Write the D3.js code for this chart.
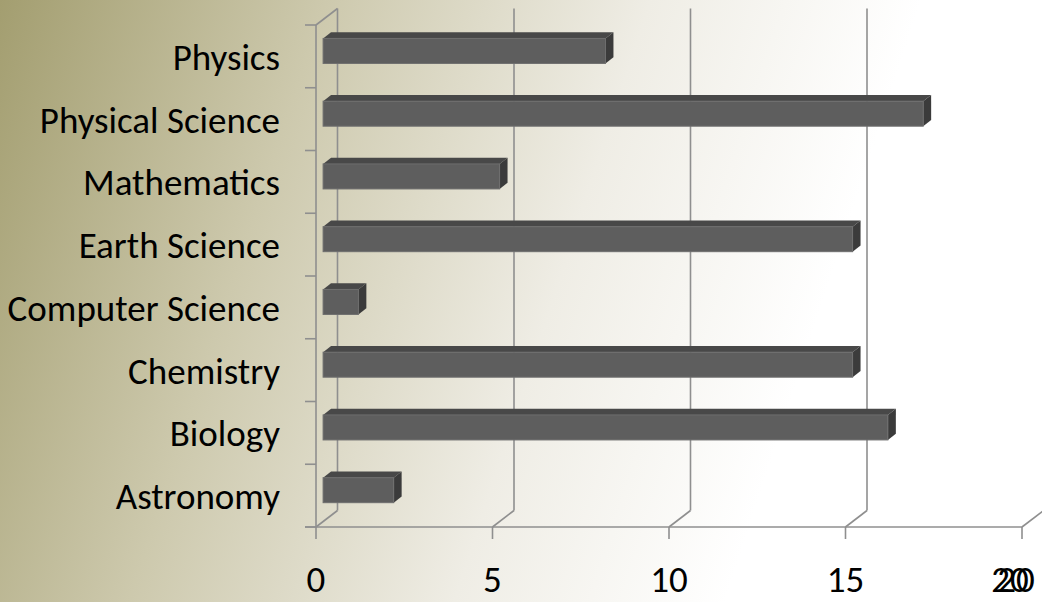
<!DOCTYPE html>
<meta charset="utf-8">
<style>
body { margin: 0; background: #fff; }
svg { display: block; }
.cat-label, .val-label {
  font-family: Calibri, Carlito, Lato, sans-serif;
  fill: #000;
}
.cat-label { font-size: 37px; }
.val-label { font-size: 37px; }
.grid { stroke: #8f8f8f; stroke-width: 1.6; fill: none; }
</style>
<body>
<script src="https://d3js.org/d3.v7.min.js"></script>
<script>

// chart data
var categories = ["Physics", "Physical Science", "Mathematics", "Earth Science",
                  "Computer Science", "Chemistry", "Biology", "Astronomy"];
var values = [8, 17, 5, 15, 1, 15, 16, 2];
var xTicks = [0, 5, 10, 15, 20];

var W = 1042, H = 602;

// front plane of the plot
var plotLeft = 316, plotRight = 1022, plotTop = 25, plotBottom = 527;
// depth offset of the back wall
var depthX = 21.5, depthY = -16.5;
// bar depth (fraction of the full depth)
var barD0 = 0.33, barD1 = 0.70;

var x = d3.scaleLinear().domain([0, 20]).range([plotLeft, plotRight]);
var yStep = d3.scaleBand().domain(categories).range([plotTop, plotBottom]);
var barH = 25;

var svg = d3.select("body").append("svg")
    .attr("width", W)
    .attr("height", H);

// background gradient
var defs = svg.append("defs");
var grad = defs.append("linearGradient")
    .attr("id", "bg")
    .attr("gradientUnits", "userSpaceOnUse")
    .attr("x1", 0).attr("y1", 0)
    .attr("x2", 980).attr("y2", 320);
grad.append("stop").attr("offset", 0).attr("stop-color", "#a39e70");
grad.append("stop").attr("offset", 0.3).attr("stop-color", "#cdc9ad");
grad.append("stop").attr("offset", 0.6).attr("stop-color", "#efede5");
grad.append("stop").attr("offset", 0.85).attr("stop-color", "#ffffff");

svg.append("rect").attr("width", W).attr("height", H).attr("fill", "url(#bg)");

// back wall gridlines
var g = svg.append("g");
g.selectAll(".back").data(xTicks).enter().append("line")
    .attr("class", "grid")
    .attr("x1", function(d) { return x(d) + depthX; })
    .attr("x2", function(d) { return x(d) + depthX; })
    .attr("y1", plotTop + depthY)
    .attr("y2", plotBottom + depthY);

// floor diagonals
g.selectAll(".floor").data(xTicks).enter().append("line")
    .attr("class", "grid")
    .attr("x1", function(d) { return x(d); })
    .attr("y1", plotBottom)
    .attr("x2", function(d) { return x(d) + depthX; })
    .attr("y2", plotBottom + depthY);

// top-left diagonal of the side wall
g.append("line").attr("class", "grid")
    .attr("x1", plotLeft).attr("y1", plotTop)
    .attr("x2", plotLeft + depthX).attr("y2", plotTop + depthY);

// front category axis
g.append("line").attr("class", "grid")
    .attr("x1", plotLeft).attr("y1", plotTop)
    .attr("x2", plotLeft).attr("y2", plotBottom);
var bounds = categories.map(function(c) { return yStep(c); }).concat([plotBottom]);
g.selectAll(".ctick").data(bounds).enter().append("line")
    .attr("class", "grid")
    .attr("x1", plotLeft - 11).attr("x2", plotLeft)
    .attr("y1", function(d) { return d; })
    .attr("y2", function(d) { return d; });

// front value axis
g.append("line").attr("class", "grid")
    .attr("x1", plotLeft - 11).attr("y1", plotBottom)
    .attr("x2", plotRight).attr("y2", plotBottom);
g.selectAll(".xtick").data(xTicks).enter().append("line")
    .attr("class", "grid")
    .attr("x1", function(d) { return x(d); })
    .attr("x2", function(d) { return x(d); })
    .attr("y1", plotBottom)
    .attr("y2", plotBottom + 12);

// 3D bars
var bars = svg.append("g").selectAll(".bar")
    .data(categories.map(function(c, i) { return {cat: c, v: values[i]}; }))
  .enter().append("g");

function pt(px, py) { return px + "," + py; }

bars.each(function(d) {
  var b = d3.select(this);
  var ox = barD0 * depthX, oy = barD0 * depthY;
  var dx = (barD1 - barD0) * depthX, dy = (barD1 - barD0) * depthY;
  var x0 = x(0) + ox, x1 = x(d.v) + ox;
  var yc = yStep(d.cat) + yStep.bandwidth() / 2 + oy;
  var y0 = yc - barH / 2, y1 = yc + barH / 2;
  // top face
  b.append("polygon")
      .attr("points", [pt(x0, y0), pt(x0 + dx, y0 + dy), pt(x1 + dx, y0 + dy), pt(x1, y0)].join(" "))
      .attr("fill", "#484848");
  // right side face
  b.append("polygon")
      .attr("points", [pt(x1, y0), pt(x1 + dx, y0 + dy), pt(x1 + dx, y1 + dy), pt(x1, y1)].join(" "))
      .attr("fill", "#3b3b3b");
  // front face
  b.append("rect")
      .attr("x", x0).attr("y", y0)
      .attr("width", x1 - x0).attr("height", y1 - y0)
      .attr("fill", "#5e5e5e")
      .attr("stroke", "#6e6e6e")
      .attr("stroke-width", 1);
});

// category labels
svg.append("g").selectAll("text").data(categories).enter().append("text")
    .attr("class", "cat-label")
    .attr("text-anchor", "end")
    .attr("x", 280)
    .attr("y", function(d) { return yStep(d) + yStep.bandwidth() / 2 + 13.5; })
    .text(function(d) { return d; });

// value labels (the last one is printed twice, slightly shifted, as in the original)
svg.append("g").selectAll("text").data(xTicks).enter().append("text")
    .attr("class", "val-label")
    .attr("text-anchor", "middle")
    .attr("x", function(d, i) { return i === xTicks.length - 1 ? x(d) - 12 : x(d); })
    .attr("y", 592)
    .text(function(d) { return d; });
svg.append("text")
    .attr("class", "val-label")
    .attr("text-anchor", "middle")
    .attr("x", x(20) - 6)
    .attr("y", 592)
    .text(20);

</script>
</body>
